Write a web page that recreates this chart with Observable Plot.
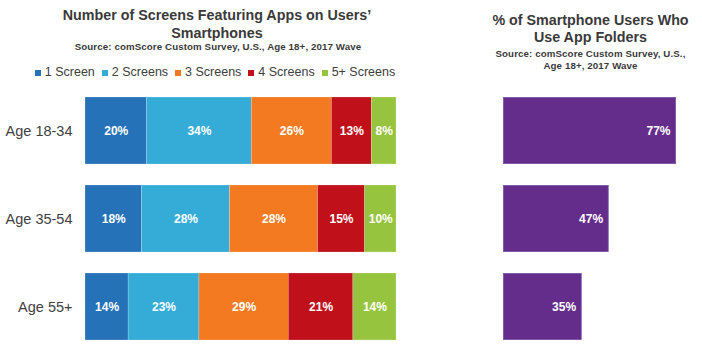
<!DOCTYPE html>
<html>
<head>
<meta charset="utf-8">
<script src="https://cdn.jsdelivr.net/npm/d3@7"></script>
<script src="https://cdn.jsdelivr.net/npm/@observablehq/plot@0.6"></script>
<style>
  html, body { margin: 0; padding: 0; background: #fff; }
  #wrap { position: relative; width: 702px; height: 352px; overflow: hidden; font-family: "Liberation Sans", Arial, sans-serif; color: #404040; }
  .abs { position: absolute; }
  .title { font-weight: bold; font-size: 14.3px; line-height: 17.5px; text-align: center; color: #3a3a3a; }
  .sub { font-weight: bold; font-size: 9.7px; line-height: 12px; text-align: center; color: #3a3a3a; letter-spacing: 0.12px; }
  #legend { display: flex; justify-content: center; align-items: baseline; font-size: 12.5px; line-height: 15px; color: #404040; white-space: nowrap; }
  #legend .item { display: flex; align-items: baseline; margin-right: 7px; }
  #legend .sw { display: inline-block; width: 6px; height: 6px; margin-right: 4px; }
</style>
</head>
<body>
<div id="wrap">
  <div class="abs title" style="left:17px; top:7.3px; width:400px;">Number of Screens Featuring Apps on Users’<br>Smartphones</div>
  <div class="abs sub" style="left:18px; top:41px; width:400px;">Source: comScore Custom Survey, U.S., Age 18+, 2017 Wave</div>
  <div class="abs" id="legend" style="left:15px; top:65px; width:400px;"></div>
  <div class="abs title" style="left:440px; top:11.5px; width:301px;">% of Smartphone Users Who<br>Use App Folders</div>
  <div class="abs sub" style="left:440px; top:48px; width:301px;">Source: comScore Custom Survey, U.S.,<br>Age 18+, 2017 Wave</div>
  <div class="abs" id="left" style="left:0; top:0;"></div>
  <div class="abs" id="right" style="left:420px; top:0;"></div>
</div>
<script>
// ---- data ----
const ages = ["Age 18-34", "Age 35-54", "Age 55+"];
const screens = ["1 Screen", "2 Screens", "3 Screens", "4 Screens", "5+ Screens"];
const oneScreen = [20, 18, 14];
const twoScreens = [34, 28, 23];
const threeScreens = [26, 28, 29];
const fourScreens = [13, 15, 21];
const fivePlusScreens = [8, 10, 14];
const appFolders = [77, 47, 35];
const screenColors = ["#2672b8", "#34acd7", "#f37a21", "#c0111b", "#97c43e"];
const folderColor = "#642d8c";

const seriesValues = [oneScreen, twoScreens, threeScreens, fourScreens, fivePlusScreens];
const stacked = [];
ages.forEach((age, i) => {
  screens.forEach((s, j) => stacked.push({age, screen: s, value: seriesValues[j][i]}));
});
const folders = ages.map((age, i) => ({age, value: appFolders[i]}));

// ---- legend ----
const legend = document.getElementById("legend");
screens.forEach((s, j) => {
  const it = document.createElement("span");
  it.className = "item";
  const sw = document.createElement("span");
  sw.className = "sw";
  sw.style.background = screenColors[j];
  it.appendChild(sw);
  it.appendChild(document.createTextNode(s));
  legend.appendChild(it);
});
legend.lastChild.style.marginRight = "0";

const yScale = {domain: ages, paddingInner: 0.24, paddingOuter: 0, label: null};
const font = "'Liberation Sans', Arial, sans-serif";

// ---- left: stacked bars ----
const stackOpts = {x: "value", y: "age", z: "screen", order: screens, offset: "normalize"};
const left = Plot.plot({
  width: 420,
  height: 352,
  marginTop: 97,
  marginBottom: 12,
  marginLeft: 85,
  marginRight: 24,
  style: {fontFamily: font, background: "transparent", overflow: "visible"},
  x: {axis: null},
  y: yScale,
  color: {domain: screens, range: screenColors},
  marks: [
    Plot.barX(stacked, Plot.stackX({...stackOpts, fill: "screen", stroke: "white", strokeWidth: 0.4, strokeOpacity: 0.5})),
    Plot.text(stacked, Plot.stackX({...stackOpts, text: d => d.value + "%", fill: "white", fontWeight: "bold", fontSize: 12})),
    Plot.axisY({tickSize: 0, tickPadding: 13, fontSize: 14.5, color: "#404040", label: null})
  ]
});
document.getElementById("left").appendChild(left);

// ---- right: app folders ----
const right = Plot.plot({
  width: 282,
  height: 352,
  marginTop: 97,
  marginBottom: 12,
  marginLeft: 83,
  marginRight: 0,
  style: {fontFamily: font, background: "transparent", overflow: "visible"},
  x: {domain: [0, 100], range: [83, 307.7], axis: null},
  y: {...yScale, axis: null},
  marks: [
    Plot.barX(folders, {x: "value", y: "age", fill: folderColor, stroke: "#7a52a6", strokeWidth: 0.8, inset: 0.4}),
    Plot.text(folders, {x: "value", y: "age", text: d => d.value + "%", fill: "white", fontWeight: "bold", fontSize: 12, textAnchor: "end", dx: -6})
  ]
});
document.getElementById("right").appendChild(right);
</script>
</body>
</html>
